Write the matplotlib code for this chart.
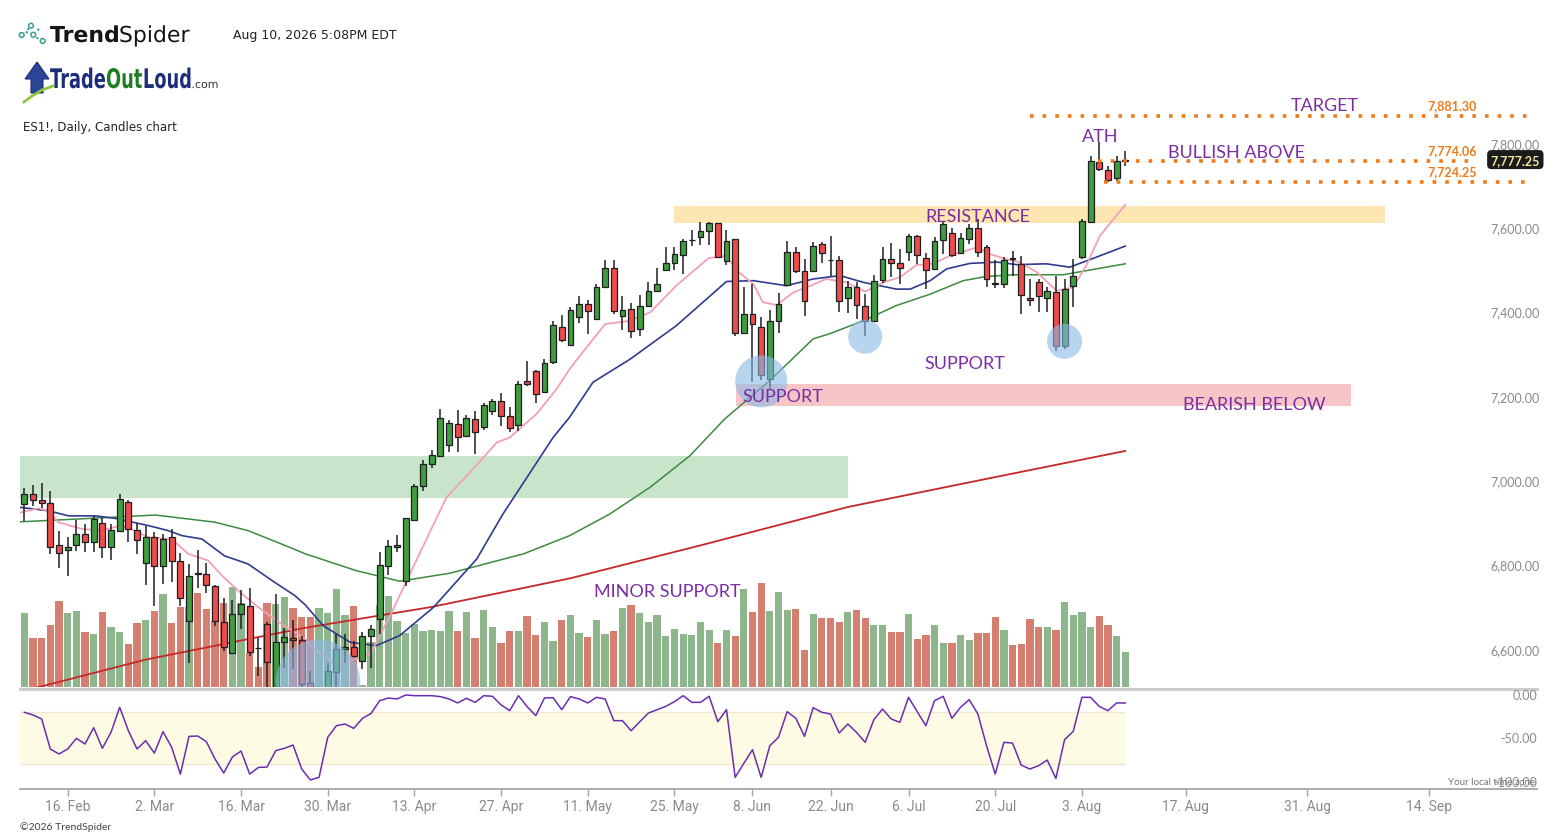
import matplotlib
matplotlib.use("Agg")
import matplotlib.pyplot as plt
import numpy as np
import pandas as pd
from matplotlib.font_manager import FontProperties
from matplotlib.lines import Line2D
from matplotlib.patches import Circle, PathPatch, Polygon, Rectangle
from matplotlib.textpath import TextPath
from matplotlib.transforms import Affine2D, IdentityTransform, blended_transform_factory

W, H = 1567, 837

# ---- data: ES1! daily, 9 Feb - 10 Aug 2026 ----
HOLIDAYS = ["2026-05-25", "2026-06-19", "2026-07-03"]
DATES = pd.bdate_range("2026-02-09", "2026-08-10")
DATES = DATES[~DATES.isin(pd.to_datetime(HOLIDAYS))]

OPEN = [6959, 6983, 6969, 6962, 6864, 6850, 6862, 6890, 6871, 6916,
        6857, 6897, 6964, 6898, 6819, 6881, 6812, 6881, 6824, 6683,
        6797, 6795, 6765, 6681, 6606, 6698, 6719, 6619, 6675, 6515,
        6633, 6643, 6638, 6535, 6482, 6505, 6562, 6617, 6620, 6588,
        6648, 6687, 6812, 6857, 6778, 6923, 7002, 7056, 7075, 7101,
        7149, 7122, 7161, 7142, 7181, 7204, 7170, 7148, 7253, 7275,
        7226, 7298, 7379, 7338, 7403, 7434, 7400, 7476, 7521, 7407,
        7422, 7375, 7431, 7465, 7516, 7531, 7551, 7586, 7593, 7608,
        7626, 7537, 7588, 7367, 7410, 7379, 7256, 7395, 7480, 7559,
        7512, 7512, 7576, 7539, 7540, 7448, 7474, 7429, 7395, 7492,
        7541, 7533, 7559, 7595, 7543, 7517, 7586, 7604, 7555, 7589,
        7614, 7571, 7484, 7481, 7543, 7529, 7448, 7488, 7450, 7462,
        7336, 7478, 7547, 7628, 7771, 7753, 7733, 7775]
HIGH = [6999, 7005, 7010, 6990, 6896, 6883, 6923, 6912, 6932, 6926,
        6912, 6984, 6969, 6916, 6908, 6893, 6889, 6901, 6845, 6817,
        6851, 6821, 6768, 6737, 6732, 6756, 6760, 6643, 6681, 6746,
        6665, 6685, 6647, 6565, 6520, 6582, 6652, 6651, 6636, 6657,
        6673, 6847, 6875, 6886, 6926, 7007, 7064, 7088, 7185, 7159,
        7183, 7171, 7180, 7200, 7209, 7223, 7190, 7252, 7299, 7278,
        7303, 7394, 7408, 7428, 7453, 7445, 7483, 7539, 7539, 7453,
        7436, 7457, 7486, 7521, 7569, 7569, 7589, 7610, 7630, 7630,
        7626, 7610, 7588, 7474, 7483, 7404, 7420, 7460, 7583, 7569,
        7541, 7581, 7581, 7596, 7548, 7490, 7486, 7458, 7503, 7569,
        7579, 7566, 7600, 7598, 7555, 7593, 7628, 7614, 7604, 7624,
        7636, 7574, 7539, 7545, 7561, 7549, 7494, 7495, 7474, 7502,
        7495, 7541, 7636, 7785, 7818, 7763, 7785, 7797]
LOW = [6920, 6956, 6951, 6842, 6809, 6790, 6849, 6847, 6847, 6832,
       6828, 6893, 6870, 6841, 6769, 6719, 6770, 6776, 6717, 6584,
       6762, 6750, 6671, 6612, 6604, 6663, 6600, 6553, 6510, 6500,
       6572, 6568, 6515, 6500, 6470, 6495, 6515, 6584, 6599, 6568,
       6571, 6652, 6792, 6847, 6766, 6920, 6992, 7046, 7075, 7084,
       7084, 7122, 7079, 7136, 7172, 7146, 7132, 7134, 7241, 7200,
       7225, 7293, 7345, 7336, 7390, 7364, 7399, 7474, 7411, 7374,
       7355, 7358, 7427, 7462, 7516, 7516, 7506, 7573, 7575, 7575,
       7545, 7527, 7359, 7367, 7249, 7255, 7233, 7367, 7478, 7507,
       7405, 7511, 7533, 7502, 7416, 7413, 7399, 7358, 7395, 7484,
       7498, 7481, 7536, 7529, 7470, 7516, 7553, 7547, 7553, 7577,
       7545, 7474, 7472, 7472, 7502, 7412, 7431, 7416, 7415, 7324,
       7329, 7428, 7541, 7628, 7751, 7725, 7727, 7763]
CLOSE = [6983, 6969, 6962, 6859, 6843, 6859, 6890, 6871, 6924, 6857,
         6899, 6973, 6902, 6874, 6883, 6812, 6877, 6824, 6738, 6790,
         6795, 6767, 6683, 6622, 6698, 6723, 6610, 6618, 6586, 6632,
         6644, 6638, 6534, 6512, 6515, 6565, 6616, 6622, 6600, 6648,
         6663, 6815, 6860, 6863, 6926, 7002, 7056, 7076, 7163, 7152,
         7120, 7163, 7130, 7195, 7204, 7170, 7140, 7245, 7245, 7222,
         7294, 7384, 7350, 7420, 7434, 7419, 7474, 7521, 7417, 7420,
         7370, 7431, 7465, 7483, 7532, 7553, 7585, 7587, 7607, 7626,
         7545, 7585, 7367, 7410, 7388, 7266, 7395, 7434, 7557, 7514,
         7441, 7573, 7555, 7538, 7442, 7476, 7432, 7395, 7490, 7541,
         7531, 7521, 7595, 7550, 7515, 7585, 7624, 7551, 7591, 7614,
         7559, 7494, 7481, 7540, 7541, 7456, 7443, 7453, 7466, 7334,
         7470, 7502, 7631, 7773, 7756, 7729, 7775, 7777.25]
# relative volume (same scale as the overlay panel)
VOLUME = [74, 49, 49, 62, 86, 74, 76, 55, 53, 75,
          60, 55, 43, 64, 67, 76, 93, 64, 80, 80,
          94, 78, 66, 84, 100, 84, 34, 20, 84, 83,
          90, 79, 70, 70, 79, 74, 98, 72, 81, 2,
          45, 82, 91, 66, 54, 63, 56, 57, 56, 76,
          56, 75, 49, 77, 60, 44, 56, 56, 71, 52,
          65, 46, 67, 72, 54, 50, 67, 53, 56, 79,
          82, 74, 65, 72, 51, 58, 53, 52, 65, 57,
          44, 57, 51, 98, 75, 104, 76, 95, 77, 78,
          37, 73, 69, 69, 65, 75, 77, 69, 62, 62,
          55, 55, 73, 48, 52, 62, 44, 44, 52, 47,
          54, 54, 70, 57, 42, 43, 68, 60, 60, 57,
          85, 72, 75, 60, 71, 62, 51, 35]
# Williams %R
WILLR = [-20, -23, -27.7, -62.3, -68, -62.3, -50, -56.5, -37.7, -61.5,
         -43, -14.2, -41.2, -62.3, -52.7, -67, -42.3, -60.4, -91.2, -47.7,
         -47.3, -53.8, -73.8, -90, -71.5, -64.6, -91.2, -83.5, -83.1, -64.2,
         -61.5, -57.7, -85.4, -98, -95, -48.8, -35.4, -33.5, -38.5, -27,
         -21.2, -6.5, -3.5, -4.6, 0, -0.8, -0.8, -0.8, -1.9, -4.6,
         -9.2, -3.8, -8.5, -0.8, -1.5, -11.5, -18, -0.8, -13.5, -23.8,
         -3.5, -3.1, -16.9, -1.9, -4.6, -9.2, -2.7, -4.6, -29.6, -29.6,
         -41.2, -30.8, -20.8, -16.9, -13.1, -7.7, -0.8, -8.5, -8.5, -1.5,
         -30.8, -16.9, -95, -78.8, -63.1, -95, -58.5, -48.8, -19.2, -26.9,
         -47.7, -14.6, -20, -21.9, -43.8, -33.5, -43.1, -54.6, -28.5, -16.2,
         -27.7, -31.5, -2.7, -19.2, -35.4, -6.5, -1.5, -26.9, -14.2, -5.4,
         -21.9, -58.5, -91.2, -54.6, -55.4, -80.8, -85.4, -81.5, -75, -96.2,
         -51.5, -41.9, -2.7, -2.7, -13.1, -18.1, -9.2, -9.2]

# moving averages at bar positions
FAST_X = [-0.4, 1.6, 2.8, 3.9, 6.6, 8.9, 11.1, 12.2, 14.3, 17, 18.9, 21.2, 22.8, 25.1, 27,
          29.7, 32.4, 33, 36, 39.9, 42.2, 45.3, 48.7, 51.4, 54.5, 56, 59.1, 61.4, 62.9, 64.1,
          67, 69.9, 72.2, 75.2, 78.9, 81, 82.2, 84.1, 85.2, 86.8, 88.7, 90.6, 92.5, 94.8, 97,
          99.1, 101, 102.9, 104.8, 106.8, 109.9, 111.4, 113.3, 114.8, 116.8, 119.1, 121, 122.5,
          124.1, 127]
FAST_Y = [6940, 6950, 6944, 6917, 6901, 6897, 6909, 6902, 6881, 6877, 6842, 6826, 6790, 6747, 6715,
          6675, 6640, 6624, 6577, 6604, 6695, 6830, 6976, 7035, 7106, 7118, 7174, 7233, 7280, 7312,
          7387, 7395, 7415, 7478, 7543, 7549, 7514, 7482, 7439, 7432, 7462, 7477, 7494, 7486, 7464,
          7486, 7498, 7527, 7530, 7549, 7569, 7553, 7541, 7534, 7510, 7466, 7474, 7526,
          7597, 7670]
MID_X = [-0.4, 2.8, 5.1, 8.2, 10.5, 14.3, 16.6, 18.2, 20.5, 23.1, 25.8, 28.9, 31.2, 32.4, 34.5,
         37.6, 40.6, 43.3, 47.2, 52.2, 55.2, 61, 62.9, 65.6, 69.9, 75.2, 81, 84.1, 87.9, 91, 94.1,
         96.8, 100.6, 102.2, 104.5, 106.4, 109.1, 112.2, 114.5, 117.9, 120.6, 123.7, 127]
MID_Y = [6952, 6944, 6932, 6932, 6926, 6909, 6897, 6885, 6877, 6837, 6818, 6774, 6743, 6721, 6671,
         6632, 6624, 6648, 6715, 6830, 6936, 7118, 7166, 7249, 7304, 7383, 7488, 7490, 7478, 7494, 7502,
         7486, 7470, 7470, 7490, 7518, 7531, 7534, 7528, 7530, 7522, 7546, 7572]
SMA50_X = [-0.4, 6.6, 15.1, 22, 25.8, 29.7, 32.4, 38.3, 43.3, 49.1, 57.6, 62.9, 67.5, 72.2, 76.8,
           80.8, 86, 91, 92.9, 96.8, 100.6, 104.5, 108.3, 111, 114.1, 119.8, 123.7, 127]
SMA50_Y = [6918, 6925, 6934, 6917, 6897, 6865, 6842, 6802, 6777, 6796, 6842, 6885, 6936, 7000, 7075,
           7162, 7253, 7352, 7364, 7395, 7431, 7458, 7490, 7500, 7504, 7504, 7518, 7530]
SMA200_X = [0, 14, 32, 47, 63, 78, 95, 112, 127]
SMA200_Y = [6517, 6591, 6665, 6716, 6784, 6862, 6953, 7024, 7086]

TARGET, BULL_ABOVE, LOWER_LINE, LAST = 7881.30, 7774.06, 7724.25, 7777.25
TARGET_X, BULL_X, LOWER_X = (116, 174.3), (123.8, 167.5), (124.5, 174)
RESIST_ZONE, RESIST_X = (7627, 7667), (75, 157)
SUPPORT_ZONE, SUPPORT_X = (7193, 7245), (82.1, 153)
GREEN_ZONE, GREEN_X = (6974, 7074), (-0.5, 95)
CIRCLE_X = [33.9, 85.0, 97.0, 120.0]
CIRCLE_Y = [6539, 7251, 7357, 7346]
CIRCLE_R = [42, 26, 17, 17.5]   # px

PRICE_TICKS = [6600, 6800, 7000, 7200, 7400, 7600, 7800]
OSC_TICKS = [0, -50, -100]
DATE_TICKS = ["2026-02-16", "2026-03-02", "2026-03-16", "2026-03-30", "2026-04-13",
              "2026-04-27", "2026-05-11", "2026-05-25", "2026-06-08", "2026-06-22",
              "2026-07-06", "2026-07-20", "2026-08-03", "2026-08-17", "2026-08-31",
              "2026-09-14"]

GREEN, RED, EDGE = "#3f9c40", "#ee4c4c", "#1f1f1f"
VGREEN, VRED = "#8db68d", "#d57f70"
PURPLE, ORANGE = "#7d2da3", "#f07a1a"
AXGREY = "#8a8a8a"

plt.rcParams["font.family"] = ["Lato", "DejaVu Sans"]


def path_word(fig, text, x, base, size, color, sx=1.0, weight="bold"):
    tp = TextPath((0, 0), text, size=size, prop=FontProperties(family="DejaVu Sans", weight=weight))
    tr = Affine2D().scale(sx, 1).translate(x, H - base)
    fig.add_artist(PathPatch(tp, transform=tr, fc=color, ec="none", lw=0))
    return x + tp.get_extents().x1 * sx


def main():
    fig = plt.figure(figsize=(W / 100, H / 100), dpi=100)
    fig.patch.set_facecolor("white")
    left, aw = 20 / W, 1517 / W
    ax_vol = fig.add_axes([left, 149 / H, aw, 598 / H])
    ax = fig.add_axes([left, 149 / H, aw, 598 / H], sharex=ax_vol)
    ax_osc = fig.add_axes([left, 47 / H, aw, 100 / H], sharex=ax_vol)
    ax_vol.set_zorder(0)
    ax.set_zorder(1)
    ax.patch.set_visible(False)

    n = len(CLOSE)
    x = np.arange(n)
    o, h, l, c = map(np.asarray, (OPEN, HIGH, LOW, CLOSE))
    up = c >= o

    # volume overlay
    ax_vol.bar(x, VOLUME, width=0.84, color=np.where(up, VGREEN, VRED), lw=0)
    ax_vol.set_ylim(0, 598)
    ax_vol.axis("off")

    # zones
    for (lo, hi), (x0, x1), col in [(GREEN_ZONE, GREEN_X, "#c8e4ca"),
                                    (RESIST_ZONE, RESIST_X, "#fde6b2"),
                                    (SUPPORT_ZONE, SUPPORT_X, "#f7c5c5")]:
        ax.add_patch(Rectangle((x0, lo), x1 - x0, hi - lo, fc=col, ec="none", zorder=0.5))

    # moving averages
    ax.plot(SMA200_X, SMA200_Y, color="#c62828", lw=1.3, zorder=2)
    ax.plot(SMA50_X, SMA50_Y, color="#3d8b40", lw=1.1, zorder=2)
    ax.plot(MID_X, MID_Y, color="#2e3b8f", lw=1.2, zorder=2)
    ax.plot(FAST_X, FAST_Y, color="#f2a0b8", lw=1.3, zorder=2)

    # candles
    ax.vlines(x, l, h, color=EDGE, lw=1.1, zorder=3)
    ax.bar(x, np.abs(c - o), bottom=np.minimum(o, c), width=0.68,
           color=np.where(up, GREEN, RED), edgecolor=EDGE, linewidth=0.9, zorder=4)

    # circles
    ax.scatter(CIRCLE_X, CIRCLE_Y, s=[(1.44 * r) ** 2 for r in CIRCLE_R],
               color="#8ab9e6", alpha=0.6, edgecolors="none", zorder=5)

    # levels
    for y, (x0, x1) in [(TARGET, TARGET_X), (BULL_ABOVE, BULL_X), (LOWER_LINE, LOWER_X)]:
        ax.plot([x0, x1], [y, y], color=ORANGE, lw=2.6, ls=(0, (1, 2.5)), zorder=5)

    def note(s, xx, yy, dy, size=13, color=PURPLE, weight="normal", va="bottom"):
        ax.annotate(s, (xx, yy), xytext=(0, dy), textcoords="offset points", ha="center",
                    va=va, color=color, fontsize=size, fontweight=weight, zorder=7)

    note("TARGET", 150, TARGET, 2)
    note("BULLISH ABOVE", 139.8, BULL_ABOVE, 0.5)
    note("ATH", 124.1, HIGH[124], -1)
    for v in (TARGET, BULL_ABOVE, LOWER_LINE):
        note(f"{v:,.2f}", 164.7, v, 3.5, size=9, color=ORANGE, weight="bold")
    note("RESISTANCE", 110, sum(RESIST_ZONE) / 2, 0, va="center_baseline")
    note("SUPPORT", 87.5, sum(SUPPORT_ZONE) / 2, 0, va="center_baseline")
    note("BEARISH BELOW", 141.9, 7202, 0, va="center_baseline")
    note("SUPPORT", 108.5, 7299, 0, va="center_baseline")
    note("MINOR SUPPORT", 74.2, 6758, 0, va="center_baseline")

    ax.set_xlim(-0.5, 174.5)
    ax.set_ylim(6526, 7944.7)
    ax.axis("off")

    ytr = blended_transform_factory(ax.transAxes, ax.transData)
    for v in PRICE_TICKS:
        ax.text(1 + 3 / 1517, v, f"{v:,.2f}", transform=ytr, ha="right", va="bottom",
                fontsize=9, color=AXGREY)
    ax.text(1 + 3 / 1517, LAST, f"{LAST:,.2f}", transform=ytr, ha="right", va="center",
            fontsize=9, fontweight="bold", color="#f3e5a5", zorder=8,
            bbox=dict(boxstyle="round,pad=0.28,rounding_size=0.35", fc="#1b1b1b", ec="none"))

    # oscillator
    ax_osc.fill_between([-0.5, n - 1], -80, -20, color="#fefbe4", lw=0)
    ax_osc.hlines([-20, -80], -0.5, n - 1, color="#efe7cf", lw=1)
    ax_osc.plot(x, WILLR, color="#6a2db0", lw=1.1)
    ax_osc.set_ylim(-108.4, 6.9)
    for s in ("left", "right"):
        ax_osc.spines[s].set_visible(False)
    ax_osc.spines["top"].set_color("#cccccc")
    ax_osc.spines["top"].set_linewidth(2.2)
    ax_osc.spines["bottom"].set_color("#a6a6a6")
    ax_osc.spines["bottom"].set_linewidth(1.3)
    ax_osc.set_yticks([])
    otr = blended_transform_factory(ax_osc.transAxes, ax_osc.transData)
    for v in OSC_TICKS:
        ax_osc.text(1.0, v, f"{v:.2f}", transform=otr, ha="right", va="center",
                    fontsize=9, color=AXGREY)
    ax_osc.text(1 - 2 / 1517, -100, "Your local time zone", transform=otr, ha="right",
                va="center", fontsize=7, color="#777777")

    pos, labels = [], []
    for d in pd.to_datetime(DATE_TICKS):
        if d <= DATES[-1]:
            pos.append(DATES.searchsorted(d))
        else:
            pos.append(n - 1 + (d - DATES[-1]).days)
        labels.append(f"{d.day}. {d.strftime('%b')}")
    ax_osc.set_xticks(pos, labels, fontsize=10, color=AXGREY,
                      fontfamily=["Liberation Sans Narrow", "Roboto", "DejaVu Sans"])
    ax_osc.tick_params(axis="x", length=5, width=1, color="#a6a6a6", pad=2)
    ax_osc.set_xlim(-0.5, 174.5)

    # header
    teal = "#3a9e94"
    for cx, cy in [(21.7, 36), (31, 26.7), (33.3, 35.7), (42.7, 42)]:
        fig.add_artist(Circle((cx, H - cy), 2.4, transform=IdentityTransform(),
                              fc="white", ec=teal, lw=1.1))
    for cx, cy in [(26.7, 33.3), (28.3, 30), (37.3, 39), (38.3, 30.7)]:
        fig.add_artist(Circle((cx, H - cy), 1.2, transform=IdentityTransform(), fc=teal, ec="none"))
    xx = path_word(fig, "Trend", 50, 43, 22, "#151515")
    path_word(fig, "Spider", xx + 1, 43, 22, "#151515", weight="normal")
    fig.text(233 / W, 1 - 36 / H, "Aug 10, 2026 5:08PM EDT", fontsize=9, color="#222222",
             va="center", family="DejaVu Sans")

    navy = "#1c2d7a"
    arrow = [(25, 80), (37, 63), (49, 80), (43, 80), (43, 94), (31, 94), (31, 80)]
    fig.add_artist(Polygon([(px, H - py) for px, py in arrow], closed=True,
                           transform=IdentityTransform(), fc="#2b4496", ec=navy, lw=0.8))
    fig.add_artist(Line2D([24, 32, 42, 53], [H - 103, H - 97, H - 91, H - 87],
                          transform=IdentityTransform(), color="#8cc63f", lw=2))
    xx = path_word(fig, "Trade", 50, 89, 27, navy, sx=0.66)
    xx = path_word(fig, "Out", xx + 1, 89, 27, "#1e7d22", sx=0.66)
    xx = path_word(fig, "Loud", xx + 1, 89, 27, navy, sx=0.66)
    path_word(fig, ".com", xx + 1, 89, 11, "#333333", weight="normal")

    fig.text(23 / W, 1 - 128 / H, "ES1!, Daily, Candles chart", fontsize=8.5, color="#222222",
             va="center", family="DejaVu Sans")
    fig.text(20 / W, 1 - 827 / H, "\u00a92026 TrendSpider", fontsize=7.5, color="#444444",
             va="center")

    fig.savefig("out.png", dpi=100)
    plt.close(fig)


if __name__ == "__main__":
    main()
